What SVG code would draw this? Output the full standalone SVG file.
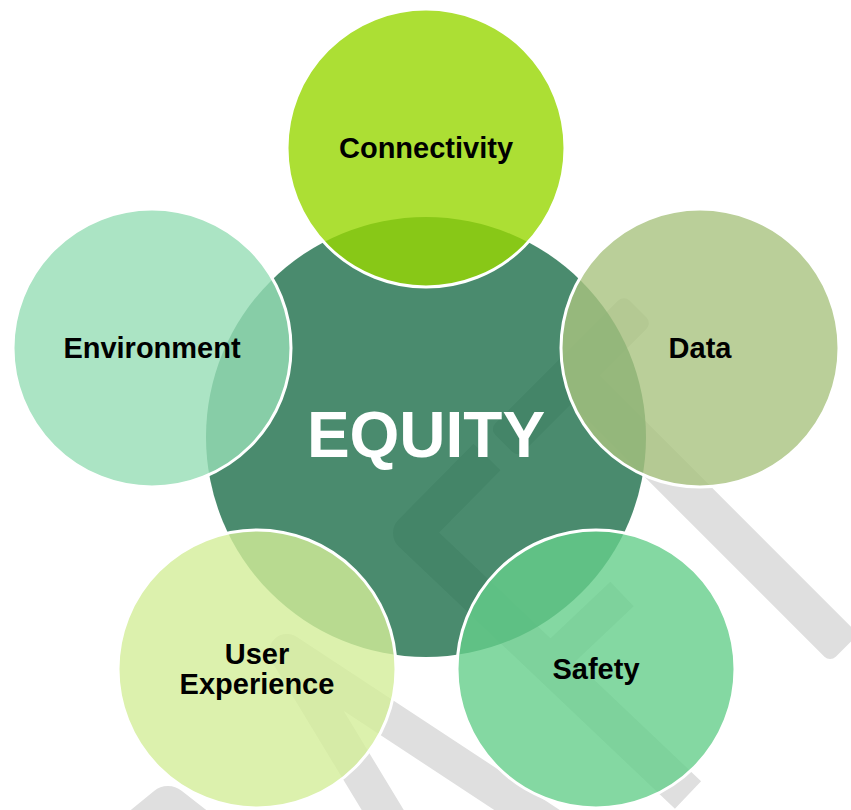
<svg xmlns="http://www.w3.org/2000/svg" width="851" height="810" viewBox="0 0 851 810">
<style>
.wm { fill:none; stroke:#dfdfdf; stroke-linejoin:round; stroke-linecap:butt; }
.wmr { fill:#dfdfdf; }
.hub { fill:#1d6e4a; fill-opacity:0.8; }
.sat { stroke:#ffffff; stroke-width:3; fill-opacity:0.8; }
.lbl { font-family:"Liberation Sans", Arial, sans-serif; font-weight:bold; font-size:29px; text-anchor:middle; fill:#000000; }
.hubl { font-family:"Liberation Sans", Arial, sans-serif; font-weight:bold; font-size:64px; text-anchor:middle; fill:#ffffff; }
</style>
<rect width="851" height="810" fill="#ffffff"/>
<g id="watermark">
  <rect class="wmr" x="0" y="-20" width="385" height="40" rx="8" transform="translate(572,376) rotate(45)"/>
  <rect class="wmr" x="0" y="-20" width="190" height="40" rx="8" transform="translate(638,309) rotate(135)"/>
  <polyline class="wm" stroke-width="38" points="487,457 412,533 688,795"/>
  <polyline class="wm" stroke-width="34" points="622,594 548,664"/>
  <polyline class="wm" stroke-width="36" points="565,835 287,652 410,855"/>
  <polyline class="wm" stroke-width="44" points="80,880 168,808 260,880"/>
</g>
<g id="equity">
  <circle class="hub" cx="426" cy="437" r="220"/>
  <text class="hubl" x="426" y="457">EQUITY</text>
</g>
<g id="connectivity">
  <circle class="sat" cx="426" cy="148" r="139" fill="#97d701"/>
  <text class="lbl" x="426" y="158">Connectivity</text>
</g>
<g id="data">
  <circle class="sat" cx="700" cy="348" r="139" fill="#a9c380"/>
  <text class="lbl" x="700" y="358">Data</text>
</g>
<g id="safety">
  <circle class="sat" cx="596" cy="669" r="139" fill="#65ce8b"/>
  <text class="lbl" x="596" y="679">Safety</text>
</g>
<g id="user-experience">
  <circle class="sat" cx="257" cy="669" r="139" fill="#d3ee99"/>
  <text class="lbl" x="257" y="664">User</text>
  <text class="lbl" x="257" y="694">Experience</text>
</g>
<g id="environment">
  <circle class="sat" cx="152" cy="348" r="139" fill="#96ddb5"/>
  <text class="lbl" x="152" y="358">Environment</text>
</g>
</svg>
